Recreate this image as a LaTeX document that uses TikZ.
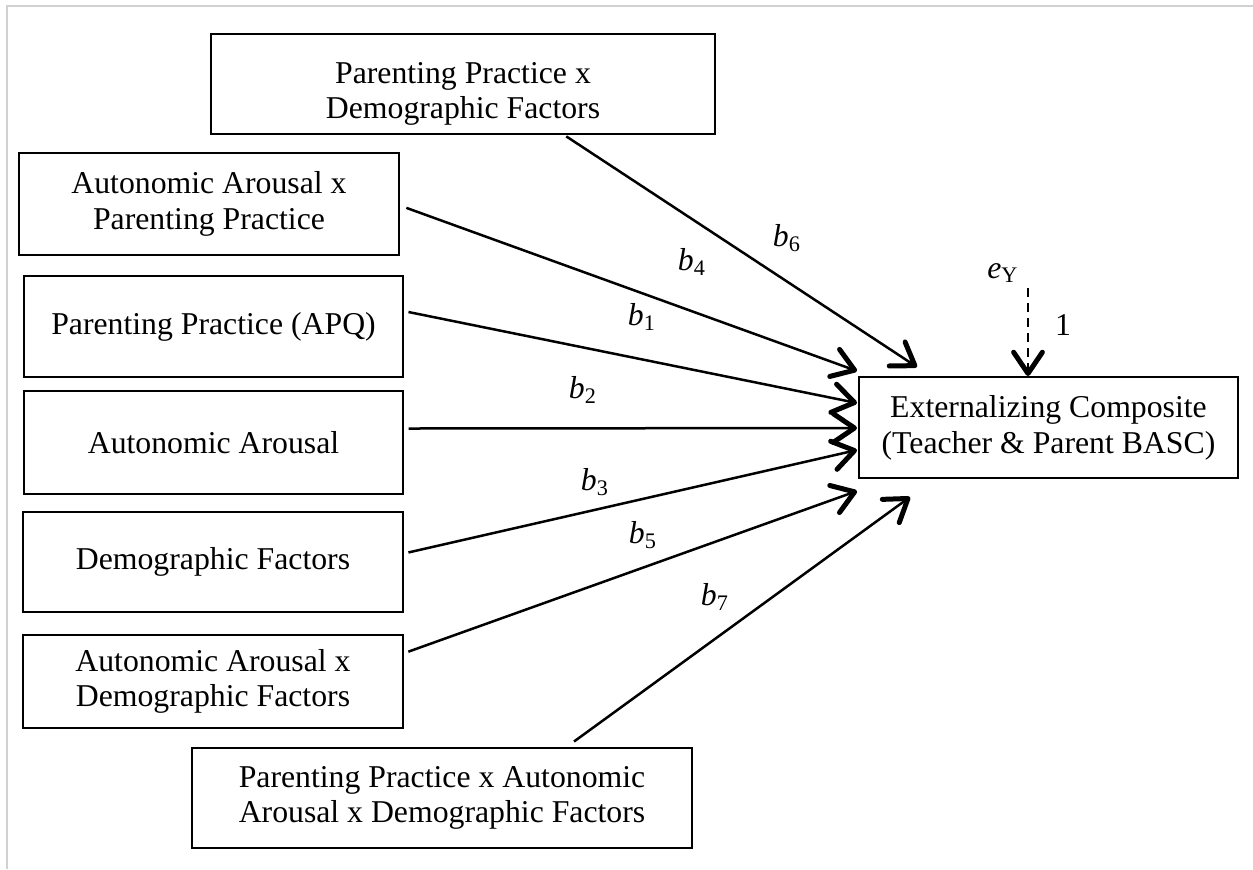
\documentclass[tikz,border=0pt]{standalone}
\usepackage{fontspec}
\setmainfont{Liberation Serif}
\usetikzlibrary{arrows.meta,calc}

\begin{document}
\begin{tikzpicture}[x=0.4pt,y=-0.4pt,
  >={Straight Barb[length=8.5pt,width=11.5pt,line width=2pt,round]},
  font=\fontsize{12.7}{14.3}\selectfont,
  var/.style={draw,line width=0.8pt,align=center,inner sep=0pt},
  reg/.style={->,line width=1pt,shorten <=1pt},
  coef/.style={inner sep=0pt}]
  % --- page frame (only top and left edge are visible) ---
  \useasboundingbox (0,0) rectangle (1253,869);
  \draw[line width=0.8pt,color=black!18] (7,869) -- (7,6) -- (1253,6);
  % --- predictors ---
  \node[var,minimum width=201.6pt,minimum height=40pt,
        label={[align=center,yshift=-4pt]center:Parenting Practice x\\Demographic Factors}] (PPxDF) at (463,84) {};
  \node[var,minimum width=152pt,minimum height=40.8pt]   (AAxPP) at (209,204)   {Autonomic Arousal x\\Parenting Practice};
  \node[var,minimum width=151.6pt,minimum height=40.4pt] (PP)    at (213.5,326.5) {Parenting Practice (APQ)};
  \node[var,minimum width=151.6pt,minimum height=41.2pt] (AA)    at (213.5,442.5) {Autonomic Arousal};
  \node[var,minimum width=152pt,minimum height=40pt]     (DF)    at (213,562)   {Demographic Factors};
  \node[var,minimum width=152pt,minimum height=37.2pt]   (AAxDF) at (213,681.5) {Autonomic Arousal x\\Demographic Factors};
  \node[var,minimum width=200pt,minimum height=40pt]     (PPxAAxDF) at (442,798) {Parenting Practice x Autonomic\\Arousal x Demographic Factors};
  % --- outcome ---
  \node[var,minimum width=151.6pt,minimum height=40.4pt] (EC)    at (1048.5,427.5) {Externalizing Composite\\(Teacher \& Parent BASC)};
  % --- paths b1 ... b7 ---
  \draw[reg] ($(PPxDF.south west)!0.7!(PPxDF.south east)$) -- ($(EC.north west)+(59,-9)$);
  \draw[reg] ($(AAxPP.east)+(4,3)$)   -- ($(EC.north west)+(-1,-5)$);
  \draw[reg] ($(PP.east)+(2,-15)$)    -- ($(EC.west)+(-1,-24.5)$);
  \draw[reg] ($(AA.east)+(2,-14)$)    -- ($(EC.west)+(-1,0.5)$);
  \draw[reg] ($(DF.east)+(2,-9)$)     -- ($(EC.west)+(-1,22.5)$);
  \draw[reg] ($(AAxDF.east)+(2,-29)$) -- ($(EC.south west)+(-1,12)$);
  \draw[reg] ($(PPxAAxDF.north)+(130,-4)$) -- ($(EC.south west)+(52,18)$);
  % labels
  \node[coef] (b6) at (787,238) {\textit{b}\textsubscript{6}};
  \node[coef] (b4) at (692,262) {\textit{b}\textsubscript{4}};
  \node[coef] (b1) at (642,317) {\textit{b}\textsubscript{1}};
  \node[coef] (b2) at (583,390) {\textit{b}\textsubscript{2}};
  \node[coef] (b3) at (595,482) {\textit{b}\textsubscript{3}};
  \node[coef] (b5) at (643,535) {\textit{b}\textsubscript{5}};
  \node[coef] (b7) at (715,597) {\textit{b}\textsubscript{7}};
  % --- residual ---
  \node[coef] (eY) at (1003,273) {\textit{e}\textsubscript{Y}};
  \coordinate (eYtail) at (1028,288);
  \draw[->,line width=1pt,dash pattern=on 3.6pt off 2.4pt] (eYtail) -- (eYtail |- EC.north);
  \node[coef] (one) at (1063,325) {1};
\end{tikzpicture}
\end{document}
